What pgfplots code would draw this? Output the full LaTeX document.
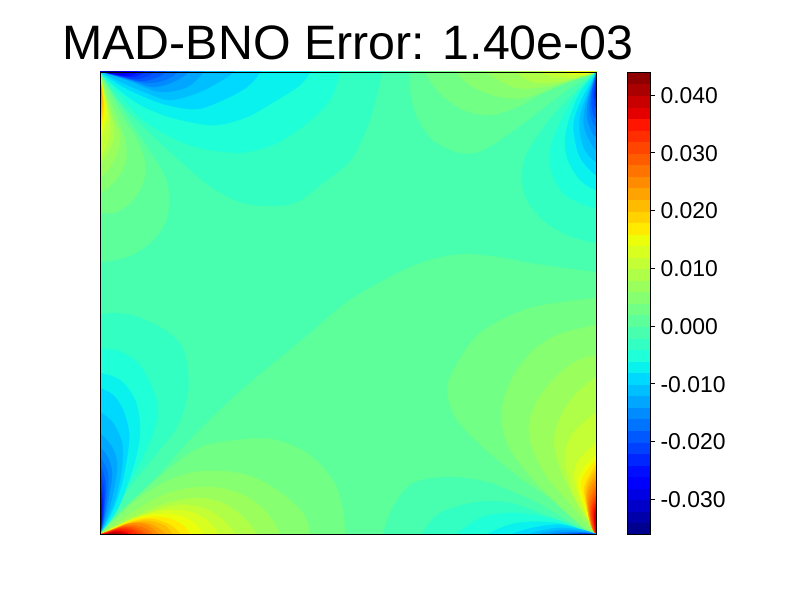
\documentclass[border=0pt]{standalone}
\usepackage{fontspec}
\setmainfont{Liberation Sans}
\usepackage{pgfplots}
\pgfplotsset{compat=1.18}

% 40 contour levels of the jet colormap, c0 to c39
\pgfplotsforeachungrouped \i in {0,...,39}{%
  \pgfmathsetmacro\t{0.0125+0.025*\i}%
  \pgfmathsetmacro\r{min(1,max(0,(\t-0.35)/0.31))-(\t>0.89)*(\t-0.89)/0.11*0.5}%
  \pgfmathsetmacro\g{min(1,max(0,min((\t-0.125)/0.25,1-(\t-0.64)/0.27)))}%
  \pgfmathsetmacro\b{max(0,min(1,min(0.5+\t/0.11*0.5,1-(\t-0.34)/0.31)))}%
  \definecolor{c\i}{rgb}{\r,\g,\b}%
}

% one filled contour level, in pixel coordinates of the image
\newcommand\lobe[2]{\addplot[smooth,tension=0.55,draw=c#1,line width=0.3pt,fill=c#1] coordinates {#2};}
% one colorbar band
\newcommand\band[3]{\addplot[draw=c#1,line width=0.2pt,fill=c#1] coordinates {(0,#2)(1,#2)(1,#3)(0,#3)} --cycle;}

\begin{document}
\begin{tikzpicture}
\path[use as bounding box] (0,0) rectangle (800bp,600bp);

\begin{axis}[
    at={(100bp,66bp)}, anchor=south west,
    scale only axis, width=496bp, height=462bp,
    xmin=100, xmax=596, ymin=72, ymax=534, y dir=reverse,
    xtick=\empty, ytick=\empty,
    axis on top, axis line style={line width=0.8bp},
    title={MAD-BNO Error: 1.40e-03},
    title style={font=\fontsize{48.5}{50}\selectfont, at={(0.5,1)}, anchor=base, yshift=6.5bp},
]
% background level
\addplot[draw=none,fill=c17] coordinates {(90,60)(610,60)(610,545)(90,545)} --cycle;

% level above zero, diagonal to the right edge and round the lower right
\addplot[smooth,tension=0.5,draw=c18,line width=0.3pt,fill=c18] coordinates {
  (99,535)(123,510)(157,477)(190,440)(223,407)(257,377)(302,340)(350,300)(400,272)(430,260)
  (463,254)(497,257)(530,263)(563,268)(596,272)(600,272)};
\addplot[draw=c18,line width=0.3pt,fill=c18] coordinates {(99,536)(99,535)(600,272)(600,536)} --cycle;
\addplot[smooth,tension=0.5,draw=c17,line width=0.3pt,fill=c17] coordinates {
  (600,538)(596,534)(583,530)(537,503)(490,483)(450,477)(413,483)(393,507)(383,534)(380,540)};

% lower left, left edge negative
\lobe{16}{(100,315)(115,313)(138,317)(165,330)(182,347)(188,373)(187,397)(177,427)(157,453)(130,487)(110,517)(99,535)(90,540)(90,315)}
\lobe{15}{(100,349)(115,350)(132,358)(143,370)(153,390)(158,410)(153,433)(140,463)(123,493)(110,517)(99,535)(90,540)(90,349)}
\lobe{14}{(100,373)(120,380)(135,400)(140,427)(137,453)(128,483)(117,510)(99,535)(90,540)(90,373)}
\lobe{13}{(100,388)(113,395)(123,410)(129,433)(127,457)(122,483)(113,510)(99,535)(90,540)(90,388)}
\lobe{12}{(100,412)(113,423)(122,443)(122,467)(117,493)(110,513)(99,535)(90,540)(90,412)}
\lobe{11}{(100,433)(112,447)(117,463)(115,483)(108,513)(99,535)(90,540)(90,433)}
\lobe{10}{(100,447)(108,458)(112,473)(110,490)(105,517)(99,535)(90,540)(90,447)}
\lobe{9}{(100,457)(107,470)(108,483)(105,513)(99,535)(90,540)(90,457)}
\lobe{8}{(100,465)(105,480)(105,500)(103,520)(99,535)(90,540)(90,465)}
\lobe{7}{(100,473)(104,490)(103,517)(99,535)(90,540)(90,473)}
\lobe{6}{(100,483)(103,500)(102,520)(99,535)(90,540)(90,483)}
\lobe{5}{(100,493)(102,505)(101,522)(99,535)(90,540)(90,493)}
\lobe{4}{(100,502)(101,512)(101,525)(99,535)(90,540)(90,502)}
\lobe{3}{(100,510)(101,520)(99,535)(90,540)(90,510)}

% lower left, bottom edge positive
\lobe{19}{(99,535)(133,500)(190,453)(223,442)(270,439)(307,453)(333,480)(343,510)(345,534)(345,540)(99,540)}
\lobe{20}{(99,535)(133,503)(163,483)(190,473)(217,471)(247,475)(277,490)(303,513)(310,534)(310,540)(99,540)}
\lobe{21}{(99,535)(133,512)(163,495)(190,488)(220,488)(247,497)(267,513)(280,534)(280,540)(99,540)}
\lobe{22}{(99,535)(133,517)(167,503)(197,498)(223,503)(243,517)(257,534)(257,540)(99,540)}
\lobe{23}{(99,535)(120,525)(147,513)(177,505)(203,508)(223,520)(235,534)(235,540)(99,540)}
\lobe{24}{(99,535)(130,520)(160,511)(187,511)(207,520)(218,534)(218,540)(99,540)}
\lobe{25}{(99,535)(120,525)(143,516)(170,514)(190,520)(203,534)(203,540)(99,540)}
\lobe{26}{(99,535)(120,526)(137,519)(160,517)(180,523)(190,534)(190,540)(99,540)}
\lobe{27}{(99,535)(118,527)(135,521)(152,519)(170,525)(180,534)(180,540)(99,540)}
\lobe{28}{(99,535)(117,528)(135,522)(150,521)(165,526)(172,534)(172,540)(99,540)}
\lobe{29}{(99,535)(116,529)(132,523)(147,523)(158,528)(165,534)(165,540)(99,540)}
\lobe{30}{(99,535)(113,530)(127,524)(143,524)(153,529)(158,534)(158,540)(99,540)}
\lobe{31}{(99,535)(112,530)(124,526)(138,526)(148,530)(153,534)(153,540)(99,540)}
\lobe{32}{(99,535)(111,531)(122,527)(134,527)(143,531)(148,534)(148,540)(99,540)}
\lobe{33}{(99,535)(110,532)(120,528)(130,528)(138,531)(143,534)(143,540)(99,540)}
\lobe{34}{(99,535)(108,532)(118,529)(128,529)(138,534)(138,540)(99,540)}
\lobe{35}{(99,535)(108,533)(117,530)(125,530.5)(132,534)(132,540)(99,540)}
\lobe{36}{(100,535)(108,533)(116,531)(123,532)(128,534)(128,540)(100,540)}
\lobe{37}{(102,535)(108,533.5)(115,532)(120,533)(123,534)(123,540)(102,540)}
\lobe{38}{(105,535)(112,533)(118,534)(118,540)(105,540)}

% lower right, right edge positive
\lobe{19}{(600,298)(596,298)(563,302)(530,308)(497,322)(473,340)(450,377)(448,397)(457,420)(483,447)(523,480)(557,503)(583,527)(597,535)(610,540)(610,298)}
\lobe{20}{(600,325)(596,325)(563,333)(537,347)(517,370)(505,395)(501,418)(508,445)(525,470)(550,497)(583,527)(597,535)(610,540)(610,325)}
\lobe{21}{(600,355)(596,355)(575,362)(555,378)(538,400)(529,425)(533,450)(548,478)(567,500)(590,528)(597,535)(610,540)(610,355)}
\lobe{22}{(600,377)(596,377)(575,395)(560,418)(554,440)(559,465)(570,490)(585,517)(597,535)(610,540)(610,377)}
\lobe{23}{(600,413)(596,413)(573,433)(565,457)(573,493)(590,523)(597,535)(610,540)(610,413)}
\lobe{24}{(600,443)(596,443)(577,463)(575,483)(587,517)(597,535)(610,540)(610,443)}
\lobe{25}{(600,455)(596,455)(582,470)(578,487)(589,520)(597,535)(610,540)(610,455)}
\lobe{26}{(600,460)(596,460)(583,477)(582,490)(590,520)(597,535)(610,540)(610,460)}
\lobe{27}{(600,465)(596,465)(585,485)(585,497)(591,523)(597,535)(610,540)(610,465)}
\lobe{28}{(600,470)(596,470)(586,490)(590,522)(597,535)(610,540)(610,470)}
\lobe{29}{(600,475)(596,475)(587,493)(590,522)(597,535)(610,540)(610,475)}
\lobe{30}{(600,480)(596,480)(588,497)(591,523)(597,535)(610,540)(610,480)}
\lobe{31}{(600,485)(596,485)(589,503)(592,525)(597,535)(610,540)(610,485)}
\lobe{32}{(600,490)(596,490)(590,507)(592,525)(597,535)(610,540)(610,490)}
\lobe{33}{(600,495)(596,495)(591,510)(593,527)(597,535)(610,540)(610,495)}
\lobe{34}{(600,499)(596,499)(592,512)(594,527)(597,535)(610,540)(610,499)}
\lobe{35}{(600,503)(596,503)(593,513)(594.5,527)(597,535)(610,540)(610,503)}
\lobe{36}{(600,507)(596,507)(594,515)(595,527)(597,535)(610,540)(610,507)}
\lobe{37}{(600,511)(596,511)(595,518)(596,526)(600,530)(610,530)(610,511)}

% lower right, bottom edge negative
\lobe{16}{(422,540)(422,534)(440,513)(477,502)(510,503)(550,517)(583,532)(597,535)(597,540)}
\lobe{15}{(457,540)(457,534)(483,517)(517,513)(557,520)(590,533)(597,535)(597,540)}
\lobe{14}{(488,540)(488,534)(517,523)(557,523)(590,533)(597,535)(597,540)}
\lobe{13}{(513,540)(513,534)(537,527)(563,525)(592,533)(597,535)(597,540)}
\lobe{12}{(530,540)(530,534)(557,528)(583,530)(597,535)(597,540)}
\lobe{11}{(540,540)(540,534)(563,530)(587,532)(597,535)(597,540)}
\lobe{10}{(550,540)(550,534)(570,532)(590,533)(597,535)(597,540)}
\lobe{9}{(560,540)(560,534)(583,533)(597,535)(597,540)}
\lobe{8}{(570,540)(570,534)(585,533)(597,535)(597,540)}
\lobe{7}{(578,540)(578,534)(590,534)(597,535)(597,540)}

% upper left, top edge negative
\lobe{16}{(99,71)(120,102)(150,133)(187,167)(213,188)(240,202)(270,206)(297,202)(323,183)(350,161)(363,137)(373,110)(382,72)(383,60)(99,60)}
\lobe{15}{(99,71)(120,95)(140,117)(163,133)(190,145)(217,151)(247,152)(277,143)(307,123)(330,100)(340,72)(341,60)(99,60)}
\lobe{14}{(99,71)(117,88)(137,103)(163,115)(190,122)(217,125)(247,117)(277,100)(300,85)(310,72)(311,60)(99,60)}
\lobe{13}{(99,71)(120,85)(140,95)(167,105)(197,109)(223,100)(247,87)(260,72)(261,60)(99,60)}
\lobe{12}{(99,71)(123,83)(147,93)(170,100)(197,93)(217,83)(233,72)(234,60)(99,60)}
\lobe{11}{(99,71)(130,81)(147,88)(163,92)(187,87)(203,72)(204,60)(99,60)}
\lobe{10}{(99,71)(130,80)(153,87)(173,82)(188,72)(189,60)(99,60)}
\lobe{9}{(99,71)(125,78)(147,83)(165,80)(177,72)(178,60)(99,60)}
\lobe{8}{(99,71)(120,76)(140,81)(155,78)(165,72)(166,60)(99,60)}
\lobe{7}{(99,71)(115,75)(133,79)(145,77)(153,72)(154,60)(99,60)}
\lobe{6}{(99,71)(115,74)(128,77)(137,76)(143,72)(144,60)(99,60)}
\lobe{5}{(99,71)(113,74)(125,76)(132,75)(137,72)(138,60)(99,60)}
\lobe{4}{(99,71)(112,73.5)(122,75)(127,74)(130,72)(131,60)(99,60)}
\lobe{3}{(99,71)(110,73)(118,74)(125,72)(126,60)(99,60)}
\lobe{2}{(99,71)(110,72.5)(116,73)(120,72)(121,60)(99,60)}
\lobe{1}{(102,71)(110,72)(115,72)(116,60)(102,60)}

% upper left, left edge positive
\lobe{18}{(99,71)(123,110)(147,147)(165,177)(169,200)(165,223)(150,243)(127,257)(100,262)(90,262)(90,71)}
\lobe{19}{(99,71)(123,117)(137,140)(145,163)(143,183)(133,200)(117,212)(100,213)(90,213)(90,71)}
\lobe{20}{(99,71)(117,117)(125,140)(126,160)(118,177)(100,194)(90,194)(90,71)}
\lobe{21}{(99,71)(113,117)(120,133)(118,150)(110,167)(100,177)(90,177)(90,71)}
\lobe{22}{(99,71)(110,113)(114,130)(112,143)(100,165)(90,165)(90,71)}
\lobe{23}{(99,71)(108,110)(110,125)(108,140)(100,157)(90,157)(90,71)}
\lobe{24}{(99,71)(106,105)(107,120)(100,140)(90,140)(90,71)}
\lobe{25}{(99,71)(105,105)(105,118)(100,133)(90,133)(90,71)}
\lobe{26}{(99,71)(104,100)(104,115)(100,127)(90,127)(90,71)}
\lobe{27}{(99,71)(103,98)(103,110)(100,121)(90,121)(90,71)}
\lobe{28}{(99,71)(102,95)(102,105)(100,115)(90,115)(90,71)}
\lobe{29}{(99,71)(101.5,90)(101.5,100)(100,107)(90,107)(90,71)}
\lobe{30}{(99,71)(101,88)(100,100)(90,100)(90,71)}
\lobe{31}{(99,71)(100.5,85)(100,92)(90,92)(90,71)}

% upper right, top edge positive
\lobe{18}{(410,60)(410,72)(410,90)(417,117)(433,140)(460,153)(483,150)(510,133)(537,113)(567,90)(597,71)(597,60)}
\lobe{19}{(425,60)(425,72)(440,93)(463,110)(490,115)(517,107)(543,93)(570,82)(597,71)(597,60)}
\lobe{20}{(457,60)(457,72)(473,87)(500,97)(523,98)(547,90)(570,81)(597,71)(597,60)}
\lobe{21}{(487,60)(487,72)(513,87)(533,88)(553,85)(577,78)(597,71)(597,60)}
\lobe{22}{(517,60)(517,72)(533,82)(557,82)(580,77)(597,71)(597,60)}
\lobe{23}{(540,60)(540,72)(557,77)(577,77)(597,71)(597,60)}
\lobe{24}{(563,60)(563,72)(577,75)(597,71)(597,60)}
\lobe{25}{(570,60)(570,72)(580,74)(597,71)(597,60)}

% upper right, right edge negative
\lobe{16}{(597,71)(570,97)(547,123)(527,153)(522,177)(527,200)(543,220)(567,235)(596,243)(610,243)(610,71)}
\lobe{15}{(597,71)(577,93)(560,123)(550,150)(552,173)(563,193)(580,203)(596,208)(610,208)(610,71)}
\lobe{14}{(597,71)(580,93)(570,117)(565,140)(568,160)(580,180)(596,190)(610,190)(610,71)}
\lobe{13}{(597,71)(583,97)(575,117)(574,133)(580,157)(596,175)(610,175)(610,71)}
\lobe{12}{(597,71)(585,100)(580,117)(580,133)(585,150)(596,162)(610,162)(610,71)}
\lobe{11}{(597,71)(587,100)(584,115)(585,130)(596,150)(610,150)(610,71)}
\lobe{10}{(597,71)(589,97)(587,115)(590,127)(596,137)(610,137)(610,71)}
\lobe{9}{(597,71)(591,95)(590,112)(596,127)(610,127)(610,71)}
\lobe{8}{(597,71)(592,92)(592,107)(596,118)(610,118)(610,71)}
\lobe{7}{(597,71)(594,90)(594,100)(596,108)(610,108)(610,71)}
\lobe{6}{(597,71)(595,90)(596,100)(610,100)(610,71)}
\end{axis}

% colorbar
\begin{axis}[
    at={(627.5bp,66bp)}, anchor=south west,
    scale only axis, width=22.5bp, height=462bp,
    xmin=0, xmax=1, ymin=-0.036, ymax=0.044,
    xtick=\empty,
    ytick={-0.03,-0.02,-0.01,0,0.01,0.02,0.03,0.04},
    yticklabels={-0.030,-0.020,-0.010,0.000,0.010,0.020,0.030,0.040},
    scaled y ticks=false,
    ymajorticks=true, yticklabel pos=right,
    tick align=outside, major tick length=4.9bp,
    tick style={black, line width=0.8bp},
    ytick pos=right,
    yticklabel style={font=\fontsize{23}{25}\selectfont, xshift=3.5bp, yshift=-0.5bp, inner sep=2bp},
    axis on top, axis line style={line width=0.8bp},
]
\band{0}{-0.036}{-0.034}
\band{1}{-0.034}{-0.032}
\band{2}{-0.032}{-0.030}
\band{3}{-0.030}{-0.028}
\band{4}{-0.028}{-0.026}
\band{5}{-0.026}{-0.024}
\band{6}{-0.024}{-0.022}
\band{7}{-0.022}{-0.020}
\band{8}{-0.020}{-0.018}
\band{9}{-0.018}{-0.016}
\band{10}{-0.016}{-0.014}
\band{11}{-0.014}{-0.012}
\band{12}{-0.012}{-0.010}
\band{13}{-0.010}{-0.008}
\band{14}{-0.008}{-0.006}
\band{15}{-0.006}{-0.004}
\band{16}{-0.004}{-0.002}
\band{17}{-0.002}{0.000}
\band{18}{0.000}{0.002}
\band{19}{0.002}{0.004}
\band{20}{0.004}{0.006}
\band{21}{0.006}{0.008}
\band{22}{0.008}{0.010}
\band{23}{0.010}{0.012}
\band{24}{0.012}{0.014}
\band{25}{0.014}{0.016}
\band{26}{0.016}{0.018}
\band{27}{0.018}{0.020}
\band{28}{0.020}{0.022}
\band{29}{0.022}{0.024}
\band{30}{0.024}{0.026}
\band{31}{0.026}{0.028}
\band{32}{0.028}{0.030}
\band{33}{0.030}{0.032}
\band{34}{0.032}{0.034}
\band{35}{0.034}{0.036}
\band{36}{0.036}{0.038}
\band{37}{0.038}{0.040}
\band{38}{0.040}{0.042}
\band{39}{0.042}{0.044}
\end{axis}
\end{tikzpicture}
\end{document}
